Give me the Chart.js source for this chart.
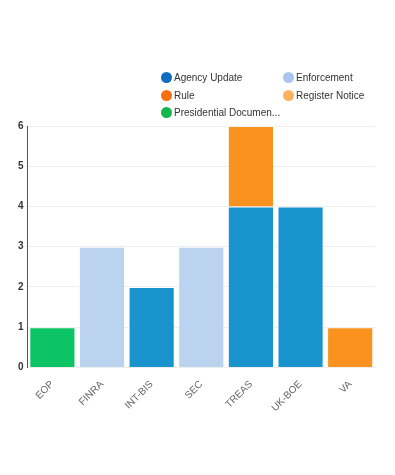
<!DOCTYPE html>
<html>
<head>
<meta charset="utf-8">
<script src="https://cdn.jsdelivr.net/npm/chart.js@4"></script>
<style>
  body { margin: 0; background: #fff; font-family: "Liberation Sans", Arial, sans-serif; }
  #wrap { position: relative; width: 395px; height: 475px; }
  #legend { position: absolute; left: 161px; top: 70px; width: 234px; font-size: 10px; color: #333; }
  .item { position: absolute; white-space: nowrap; line-height: 16px; }
  .dot { display: inline-block; width: 11px; height: 11px; border-radius: 50%; vertical-align: -2px; margin-right: 2px; }
</style>
</head>
<body>
<div id="wrap">
  <canvas id="chart" width="395" height="475"></canvas>
  <div id="legend"></div>
</div>
<script>
const categories = ['EOP', 'FINRA', 'INT-BIS', 'SEC', 'TREAS', 'UK-BOE', 'VA'];

const seriesNames = ['Agency Update', 'Enforcement', 'Rule', 'Register Notice', 'Presidential Documen...'];
const agencyUpdate   = [0, 0, 2, 0, 4, 4, 0];
const enforcement    = [0, 3, 0, 3, 0, 0, 0];
const rule           = [0, 0, 0, 0, 2, 0, 1];
const registerNotice = [0, 0, 0, 0, 0, 0, 0];
const presidential   = [1, 0, 0, 0, 0, 0, 0];

const barColors    = ['#1994cd', '#bcd3f0', '#fa921f', '#fdb25f', '#0dc465'];
const legendColors = ['#106cbc', '#a9c6ee', '#f76f12', '#fdb25f', '#13b64a'];

const seriesData = [agencyUpdate, enforcement, rule, registerNotice, presidential];

const datasets = seriesNames.map((name, i) => ({
    label: name,
    data: seriesData[i],
    backgroundColor: barColors[i],
    borderColor: 'rgba(255,255,255,0.25)',
    borderWidth: 1,
    barPercentage: 0.93,
    categoryPercentage: 1
}));

// html legend, two columns
const legend = document.getElementById('legend');
seriesNames.forEach((name, i) => {
    const el = document.createElement('div');
    el.className = 'item';
    el.style.left = (i % 2 === 0 ? 0 : 122) + 'px';
    el.style.top = (Math.floor(i / 2) * 17.5) + 'px';
    el.innerHTML = `<span class="dot" style="background:${legendColors[i]}"></span>${name}`;
    legend.appendChild(el);
});

new Chart(document.getElementById('chart'), {
    type: 'bar',
    data: { labels: categories, datasets: datasets },
    options: {
        responsive: false,
        animation: false,
        layout: { padding: { top: 126, right: 20, bottom: 58, left: 14 } },
        plugins: { legend: { display: false }, tooltip: { enabled: false } },
        scales: {
            x: {
                stacked: true,
                grid: { display: false },
                border: { color: '#eeeeee' },
                ticks: {
                    color: '#666',
                    font: { family: 'Liberation Sans', size: 10 },
                    maxRotation: 45,
                    minRotation: 45
                }
            },
            y: {
                stacked: true,
                min: 0,
                max: 6,
                grid: { color: '#eeeeee', drawTicks: false },
                border: { color: '#555', width: 1 },
                ticks: {
                    stepSize: 1,
                    padding: 4,
                    color: '#333',
                    font: { family: 'Liberation Sans', size: 10, weight: 'bold' }
                }
            }
        }
    }
});
</script>
</body>
</html>
